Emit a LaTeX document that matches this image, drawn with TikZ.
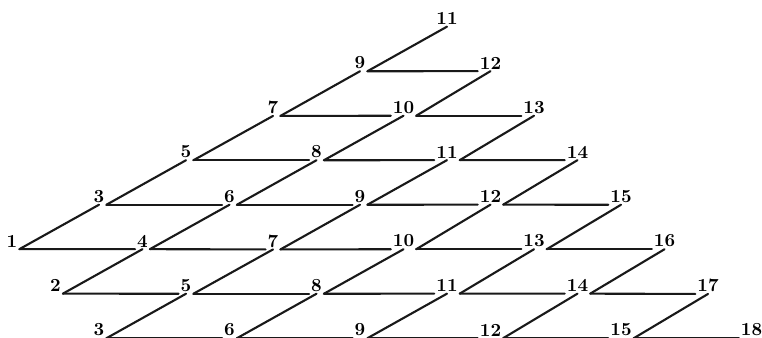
\documentclass[tikz,border=0pt]{standalone}
\usepackage{tikz}

\begin{document}
\begin{tikzpicture}[
  x=0.02cm, y=0.02cm,
  num/.style={font=\fontsize{10.5}{10.5}\selectfont\bfseries, inner sep=1pt},
  link/.style={line width=1.2pt, line cap=round, color=black!90}
]
\useasboundingbox (0,0) rectangle (762,338);

% labels of the lattice, u steps up-right, d steps down-right
\foreach \u in {0,...,5}{
  \pgfmathtruncatemacro\dmax{\u+2}
  \foreach \d in {0,...,\dmax}{
    \pgfmathtruncatemacro\val{1+2*\u+\d}
    \node[num] (p\u-\d) at ({12+87*\u+43.5*\d},{97+44.5*(\u-\d)}) {\val};
  }
}

% horizontal and rising strokes
\foreach \u in {0,...,4}{
  \pgfmathtruncatemacro\v{\u+1}
  \pgfmathtruncatemacro\dmax{\u+2}
  \foreach \d in {0,...,\dmax}{
    \pgfmathtruncatemacro\e{\d+1}
    \draw[link] (p\u-\d.south east) -- (p\v-\e.south west);
    \draw[link] (p\u-\d.south east) -- (p\v-\d.south);
  }
}
\end{tikzpicture}
\end{document}
